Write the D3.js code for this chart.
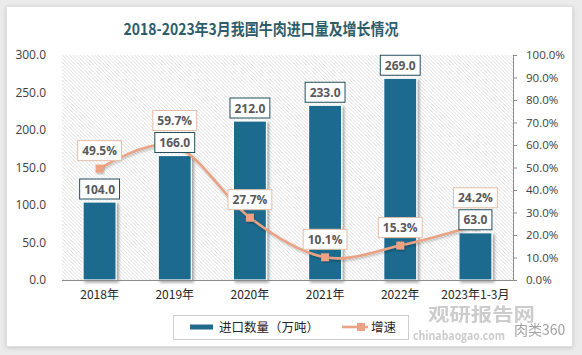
<!DOCTYPE html>
<html><head><meta charset="utf-8">
<script src="https://cdn.jsdelivr.net/npm/d3@7/dist/d3.min.js"></script>
<style>
html,body{margin:0;padding:0;background:#ebebeb;}
svg{display:block;}
</style></head>
<body>
<script>
const categories = ["2018年","2019年","2020年","2021年","2022年","2023年1-3月"];
const volume = [104.0,166.0,212.0,233.0,269.0,63.0];
const growth = [49.5,59.7,27.7,10.1,15.3,24.2];
const leftTicks = [0,50,100,150,200,250,300];
const rightTicks = [0,10,20,30,40,50,60,70,80,90,100];
const title = "2018-2023年3月我国牛肉进口量及增长情况";
const seriesNames = ["进口数量（万吨）","增速"];

const W = 582, H = 355;
const plot = {l:62, r:513, t:55, b:280};
const barColor = "#1f6a8d", lineColor = "#e9a283";
const font = "'Open Sans','Noto Sans CJK SC',sans-serif";
const cjk = "'Noto Sans CJK SC','Open Sans',sans-serif";

const svg = d3.select("body").append("svg").attr("width",W).attr("height",H);
const defs = svg.append("defs");
const pat = defs.append("pattern").attr("id","hatch").attr("patternUnits","userSpaceOnUse")
  .attr("width",3.6).attr("height",3.6);
pat.append("path").attr("d","M-1,-1L4.6,4.6M-1,2.6L1,4.6M2.6,-1L4.6,1")
  .attr("stroke","#d6d6d6").attr("stroke-width",0.8);
const sh = defs.append("filter").attr("id","sh").attr("x","-20%").attr("y","-20%").attr("width","150%").attr("height","150%");
sh.append("feDropShadow").attr("dx",2).attr("dy",2).attr("stdDeviation",1.5).attr("flood-color","#000").attr("flood-opacity",0.35);
const cs = defs.append("filter").attr("id","cs").attr("x","-5%").attr("y","-5%").attr("width","110%").attr("height","110%");
cs.append("feDropShadow").attr("dx",0).attr("dy",1).attr("stdDeviation",2).attr("flood-color","#000").attr("flood-opacity",0.15);
const ls = defs.append("filter").attr("id","ls").attr("x","-10%").attr("y","-10%").attr("width","120%").attr("height","130%");
ls.append("feDropShadow").attr("dx",1).attr("dy",1.5).attr("stdDeviation",1).attr("flood-color","#000").attr("flood-opacity",0.25);

// card
svg.append("rect").attr("x",6.5).attr("y",6.5).attr("width",566).attr("height",340)
  .attr("fill","#fff").attr("stroke","#dedede").attr("filter","url(#cs)");

// title
svg.append("text").attr("x",261).attr("y",35).attr("text-anchor","middle")
  .attr("font-family","'Noto Sans CJK SC',sans-serif").attr("font-weight","bold").attr("font-size",16)
  .attr("fill","#2e5c6b").attr("textLength",275).attr("lengthAdjust","spacingAndGlyphs").text(title);

const x = d3.scaleBand().domain(categories).range([plot.l,plot.r]).paddingInner(0.56).paddingOuter(0.28);
const cx = d => x(d) + x.bandwidth()/2;
const yL = d3.scaleLinear().domain([0,300]).range([plot.b,plot.t]);
const yR = d3.scaleLinear().domain([0,100]).range([plot.b,plot.t]);

// hatched plot background
svg.append("rect").attr("x",plot.l).attr("y",plot.t).attr("width",plot.r-plot.l).attr("height",plot.b-plot.t)
  .attr("fill","url(#hatch)");

// left axis
const gl = svg.append("g").attr("transform",`translate(${plot.l-12},0)`)
  .call(d3.axisLeft(yL).tickValues(leftTicks).tickFormat(d3.format(".1f")).tickSize(0).tickPadding(4));
gl.select(".domain").remove();
gl.selectAll("text").attr("font-family",font).attr("font-size",12).attr("fill","#404040");

// right axis
const gr = svg.append("g").attr("transform",`translate(${plot.r},0)`)
  .call(d3.axisRight(yR).tickValues(rightTicks).tickFormat(d=>d3.format(".1f")(d)+"%").tickSize(4).tickPadding(9));
gr.select(".domain").attr("stroke","#8c8c8c");
gr.selectAll("line").attr("stroke","#8c8c8c");
gr.selectAll("text").attr("font-family",font).attr("font-size",11.5).attr("fill","#404040");

// bars
svg.append("g").selectAll("rect").data(categories).join("rect")
  .attr("x",d=>x(d)).attr("width",x.bandwidth())
  .attr("y",(d,i)=>yL(volume[i])).attr("height",(d,i)=>plot.b-yL(volume[i]))
  .attr("fill",barColor).attr("stroke","#fff").attr("stroke-width",1.2).attr("filter","url(#sh)");

// bottom axis
const gb = svg.append("g").attr("transform",`translate(0,${plot.b})`)
  .call(d3.axisBottom(x).tickSize(0).tickPadding(10));
gb.select(".domain").attr("stroke","#8c8c8c").attr("d",`M${plot.l},0.5H${plot.r}`);
gb.selectAll("text").attr("font-family",cjk).attr("font-size",12).attr("fill","#262626");

// line
const line = d3.line().x((d,i)=>cx(categories[i])).y(d=>yR(d)).curve(d3.curveCatmullRom.alpha(0));
svg.append("path").datum(growth).attr("d",line).attr("fill","none")
  .attr("stroke",lineColor).attr("stroke-width",2.6).attr("filter","url(#ls)");
svg.append("g").selectAll("rect").data(growth).join("rect")
  .attr("x",(d,i)=>cx(categories[i])-4).attr("y",d=>yR(d)-4).attr("width",8).attr("height",8)
  .attr("fill","#eca283").attr("filter","url(#ls)");

// labels
function labelBox(g, cxv, bottom, txt, border){
  const t = g.append("text").attr("x",cxv).attr("y",bottom-5.5).attr("text-anchor","middle")
    .attr("font-family",font).attr("font-weight","bold").attr("font-size",12).attr("fill","#595959").text(txt);
  const w = t.node().getComputedTextLength()+9;
  g.insert("rect","text").attr("x",cxv-w/2).attr("y",bottom-20).attr("width",w).attr("height",20)
    .attr("fill","#fff").attr("stroke",border).attr("stroke-width",1);
}
const lg = svg.append("g");
categories.forEach((c,i)=>{
  const bBottom = yL(volume[i])-3;
  const bTop = bBottom-20;
  let pBottom = yR(growth[i])-8;
  if (pBottom > bTop && pBottom-20 < bBottom) pBottom = bTop-2;
  const g1 = lg.append("g"); labelBox(g1, cx(c), pBottom, d3.format(".1f")(growth[i])+"%", "#e3bfa9");
});
categories.forEach((c,i)=>{
  const g2 = lg.append("g"); labelBox(g2, cx(c), yL(volume[i])-3, d3.format(".1f")(volume[i]), "#234f5e");
});

// legend
const leg = svg.append("g");
leg.append("rect").attr("x",173.5).attr("y",315.5).attr("width",235).attr("height",24)
  .attr("fill","#fff").attr("stroke","#cfcfcf");
leg.append("rect").attr("x",190).attr("y",324.5).attr("width",23).attr("height",5).attr("fill",barColor);
leg.append("text").attr("x",219).attr("y",332).attr("font-family",cjk).attr("font-size",12.5).attr("fill","#262626").text(seriesNames[0]);
leg.append("line").attr("x1",342).attr("x2",368).attr("y1",327).attr("y2",327).attr("stroke",lineColor).attr("stroke-width",2.6);
leg.append("rect").attr("x",357).attr("y",323).attr("width",8).attr("height",8).attr("fill","#eca283");
leg.append("text").attr("x",371).attr("y",332).attr("font-family",cjk).attr("font-size",12.5).attr("fill","#262626").text(seriesNames[1]);

// watermark
const wm = svg.append("g").attr("opacity",0.5);
wm.append("text").attr("x",428).attr("y",321).attr("font-family","'Noto Sans CJK SC',sans-serif").attr("font-weight","bold")
  .attr("font-size",18).attr("fill","#9a9a9a").attr("textLength",107).attr("lengthAdjust","spacingAndGlyphs").text("观研报告网");
wm.append("text").attr("x",413).attr("y",340).attr("font-family",font).attr("font-weight","bold")
  .attr("font-size",12).attr("fill","#9a9a9a").attr("textLength",92).attr("lengthAdjust","spacingAndGlyphs").text("chinabaogao.com");
svg.append("text").attr("x",514).attr("y",335).attr("font-family",cjk)
  .attr("font-size",14).attr("fill","#8a8a8a").attr("opacity",0.8).text("肉类360");
</script>
</body></html>
